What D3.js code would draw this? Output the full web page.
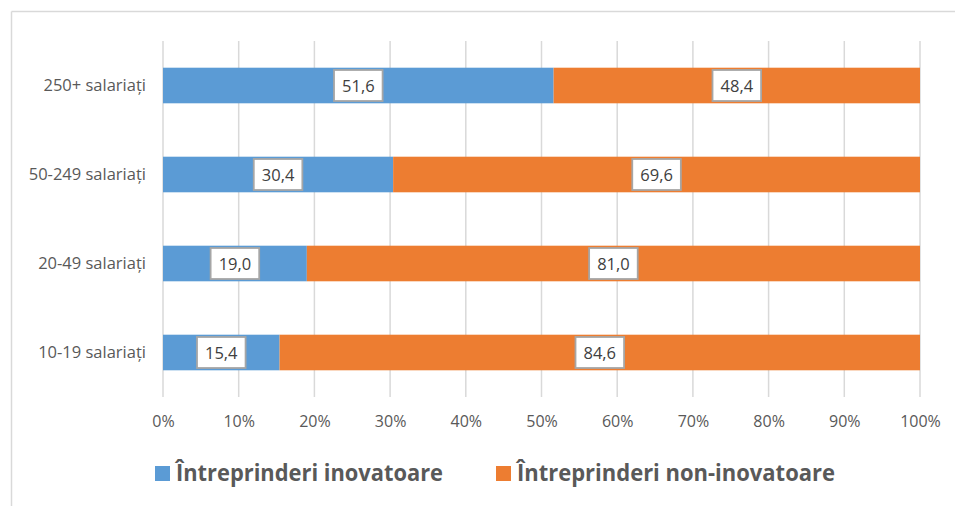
<!DOCTYPE html>
<html>
<head>
<meta charset="utf-8">
<script src="https://cdn.jsdelivr.net/npm/d3@7"></script>
<style>
  html, body { margin: 0; padding: 0; background: #ffffff; }
  svg { display: block; font-family: "Open Sans", "Liberation Sans", sans-serif; }
</style>
</head>
<body>
<svg id="chart" width="955" height="506"></svg>
<script>
// Enterprise size classes, listed bottom to top as drawn
const categories = ["10-19 salariați", "20-49 salariați", "50-249 salariați", "250+ salariați"];
const seriesNames = ["Întreprinderi inovatoare", "Întreprinderi non-inovatoare"];
const innovative = [15.4, 19.0, 30.4, 51.6];
const nonInnovative = [84.6, 81.0, 69.6, 48.4];
const tickValues = [0, 10, 20, 30, 40, 50, 60, 70, 80, 90, 100];
const colors = ["#5b9bd5", "#ed7d31"];

const svg = d3.select("#chart");
const margin = { left: 163, right: 35, top: 41, bottom: 109 };
const W = 955, H = 506;

// Outer frame (top and left edges visible)
svg.append("line").attr("x1", 11.5).attr("x2", W).attr("y1", 11.5).attr("y2", 11.5)
  .attr("stroke", "#d9d9d9").attr("stroke-width", 1.5);
svg.append("line").attr("x1", 11.5).attr("x2", 11.5).attr("y1", 11.5).attr("y2", H)
  .attr("stroke", "#d9d9d9").attr("stroke-width", 1.5);

const x = d3.scaleLinear().domain([0, 100]).range([margin.left, W - margin.right]);
const y = d3.scaleBand()
  .domain(categories.slice().reverse())
  .range([margin.top, H - margin.bottom])
  .paddingInner(0.6)
  .paddingOuter(0.3);

// Vertical gridlines
svg.append("g").selectAll("line").data(tickValues).join("line")
  .attr("x1", d => x(d)).attr("x2", d => x(d))
  .attr("y1", margin.top).attr("y2", H - margin.bottom)
  .attr("stroke", "#d9d9d9").attr("stroke-width", 1.5);

// Bottom axis tick labels
const xAxis = d3.axisBottom(x).tickValues(tickValues).tickFormat(d => d + "%").tickSize(0).tickPadding(0);
const gx = svg.append("g").attr("transform", `translate(0,${H - margin.bottom})`).call(xAxis);
gx.select(".domain").remove();
gx.selectAll("text")
  .attr("dy", null).attr("y", 30)
  .attr("fill", "#595959").style("font-size", "16px")
  .style("font-family", '"Open Sans", sans-serif');

// Left axis category labels
const yAxis = d3.axisLeft(y).tickSize(0).tickPadding(0);
const gy = svg.append("g").attr("transform", `translate(${margin.left - 17},0)`).call(yAxis);
gy.select(".domain").remove();
gy.selectAll("text")
  .attr("fill", "#595959").style("font-size", "16.5px")
  .style("font-family", '"Open Sans", sans-serif');

// Stack the two series
const rows = categories.map((c, i) => ({ cat: c, a: innovative[i], b: nonInnovative[i] }));
const stack = d3.stack().keys(["a", "b"]);
const layers = stack(rows);

const gBars = svg.append("g");
layers.forEach((layer, li) => {
  gBars.append("g").selectAll("rect").data(layer).join("rect")
    .attr("x", d => x(d[0]))
    .attr("width", d => x(d[1]) - x(d[0]))
    .attr("y", d => y(d.data.cat))
    .attr("height", y.bandwidth())
    .attr("fill", colors[li]);
});

// Boxed value labels centered in each segment
const fmt = v => v.toFixed(1).replace(".", ",");
const gLab = svg.append("g");
layers.forEach((layer) => {
  layer.forEach(d => {
    const v = d[1] - d[0];
    const cx = (x(d[0]) + x(d[1])) / 2;
    const cy = y(d.data.cat) + y.bandwidth() / 2;
    const g = gLab.append("g");
    const rect = g.append("rect");
    const t = g.append("text")
      .attr("x", cx).attr("y", cy)
      .attr("text-anchor", "middle").attr("dominant-baseline", "central")
      .attr("fill", "#404040").style("font-size", "16.5px")
      .text(fmt(v));
    const tw = t.node().getComputedTextLength();
    const bw = tw + 16, bh = 31;
    rect.attr("x", cx - bw / 2).attr("y", cy - bh / 2)
      .attr("width", bw).attr("height", bh)
      .attr("fill", "#ffffff").attr("stroke", "#a6a6a6").attr("stroke-width", 1.8);
  });
});

// Legend
const legend = [
  { name: seriesNames[0], color: colors[0], sx: 155, tx: 176, len: 267 },
  { name: seriesNames[1], color: colors[1], sx: 496, tx: 517, len: 318 }
];
const gLeg = svg.append("g");
legend.forEach(l => {
  gLeg.append("rect").attr("x", l.sx).attr("y", 466).attr("width", 15).attr("height", 15).attr("fill", l.color);
  gLeg.append("text").attr("x", l.tx).attr("y", 481)
    .attr("fill", "#595959").style("font-size", "24px").style("font-weight", "bold")
    .attr("textLength", l.len).attr("lengthAdjust", "spacingAndGlyphs")
    .text(l.name);
});
</script>
</body>
</html>
